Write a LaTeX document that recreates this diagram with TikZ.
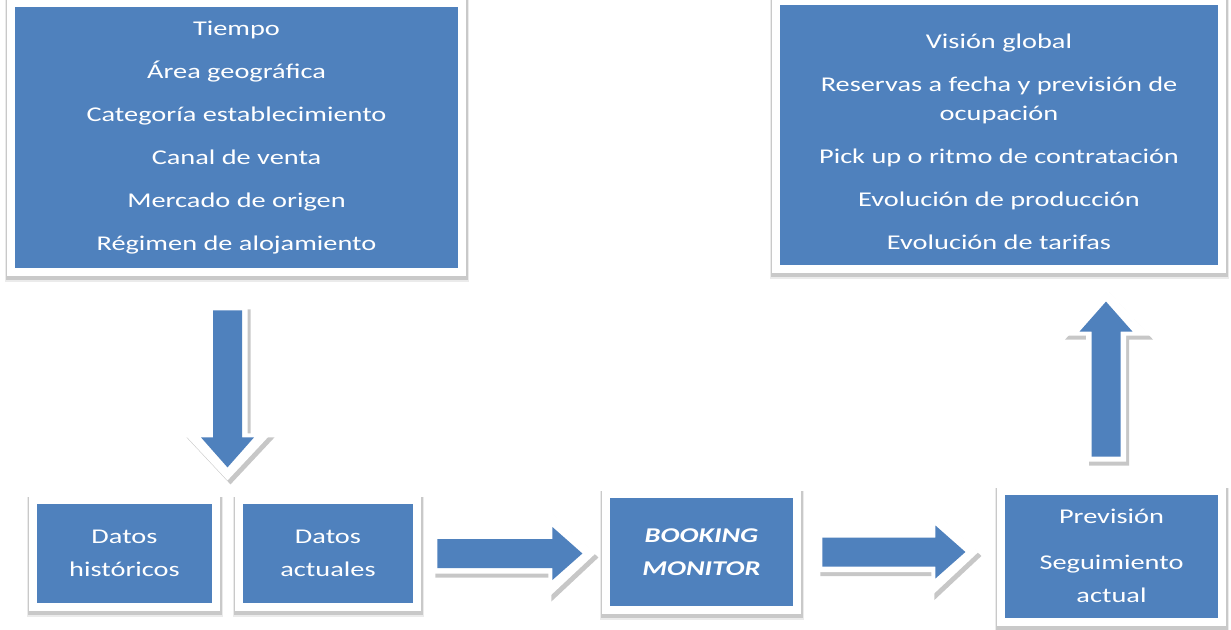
\documentclass[tikz,border=0pt]{standalone}
\usepackage{fontspec}
\setmainfont{Carlito}
\usepackage{graphicx}
\usetikzlibrary{calc,backgrounds}
\definecolor{boxblue}{RGB}{79,129,189}
\newcommand\hs[1]{\scalebox{1.35}[1]{#1}}
\newcommand\tfont{\fontsize{10.5}{14.5}\selectfont}
\newcommand\bfont{\fontsize{10.5}{16.5}\selectfont}
\begin{document}
\begin{tikzpicture}[x=0.5pt,y=-0.5pt,
  box/.style={fill=boxblue,text=white,inner sep=0pt},
  pics/fatarrow/.style n args={3}{code={
    \begin{scope}[shift={(#2,#3)}]
      \fill[black,opacity=0.22] (-5,-20) -- ({#1-34},-20) -- ({#1-34},-44) -- ({#1+13},0)
        -- ({#1-34},44) -- ({#1-34},20) -- (-5,20) -- cycle;
    \end{scope}
    \fill[white] (-5,-20) -- ({#1-34},-20) -- ({#1-34},-44) -- ({#1+13},0)
        -- ({#1-34},44) -- ({#1-34},20) -- (-5,20) -- cycle;
    \fill[boxblue] (0,-14.5) -- ({#1-30},-14.5) -- ({#1-30},-26.5) -- (#1,0)
        -- ({#1-30},26.5) -- ({#1-30},14.5) -- (0,14.5) -- cycle;
  }}]
\useasboundingbox (0,0) rectangle (1231,630);

\node[box, minimum width={443*0.5pt}, minimum height={261*0.5pt}] (A) at (236.5,137.5)
  {\tfont\hs{\begin{tabular}{@{}c@{}}Tiempo\\[7pt] Área geográfica\\[7pt] Categoría establecimiento\\[7pt]
   Canal de venta\\[7pt] Mercado de origen\\[7pt] Régimen de alojamiento\end{tabular}}};

\node[box, minimum width={438*0.5pt}, minimum height={260*0.5pt}] (B) at (999,135)
  {\tfont\raisebox{-4pt}[\height][\depth]{\hs{\begin{tabular}{@{}c@{}}Visión global\\[7pt] Reservas a fecha y previsión de\\ ocupación\\[7pt]
   Pick up o ritmo de contratación\\[7pt] Evolución de producción\\[7pt] Evolución de tarifas\end{tabular}}}};

\node[box, minimum width={175*0.5pt}, minimum height={99*0.5pt}] (hist) at (124.5,553.5)
  {\bfont\hs{\begin{tabular}{@{}c@{}}Datos\\ históricos\end{tabular}}};
\node[box, minimum width={170*0.5pt}, minimum height={99*0.5pt}] (act) at (328,553.5)
  {\bfont\hs{\begin{tabular}{@{}c@{}}Datos\\ actuales\end{tabular}}};
\node[box, minimum width={183*0.5pt}, minimum height={108*0.5pt}] (bm) at (701.5,552)
  {\bfont\hs{\begin{tabular}{@{}c@{}}\textbf{\textit{BOOKING}}\\ \textbf{\textit{MONITOR}}\end{tabular}}};
\node[box, minimum width={213*0.5pt}, minimum height={123*0.5pt}] (prev) at (1111.5,556.5)
  {\bfont\hs{\begin{tabular}{@{}c@{}}Previsión\\[6.5pt] Seguimiento\\ actual\end{tabular}}};

\begin{scope}[on background layer]
  \fill[white] (0,0) rectangle (1231,630);
  \foreach \n in {A,B,hist,act,bm,prev}{
    \fill[black,opacity=0.08] ($(\n.south west)+(-10,14)$) rectangle ($(\n.north east)+(11,-7)$);
    \fill[black,opacity=0.14] ($(\n.south west)+(-9,12)$) rectangle ($(\n.north east)+(10,-7)$);
    \fill[white] ($(\n.south west)+(-8,8)$) rectangle ($(\n.north east)+(8,-8)$);
  }
\end{scope}

% connectors (block arrows)
\coordinate (gap) at ($(hist.east)!0.5!(act.west)$);
\coordinate (dtop) at (gap |- A.south);
\pic[rotate=-90] at ($(dtop)+(0,42)$) {fatarrow={157}{4}{-3}};
\pic at ($(act.east)+(24,0)$) {fatarrow={145}{3}{4}};
\pic at ($(bm.east)+(29,0)$) {fatarrow={143}{3}{4}};
\pic[rotate=90] at ($(prev.north)+(-5.5,-38)$) {fatarrow={155}{-4}{3}};
\end{tikzpicture}
\end{document}
